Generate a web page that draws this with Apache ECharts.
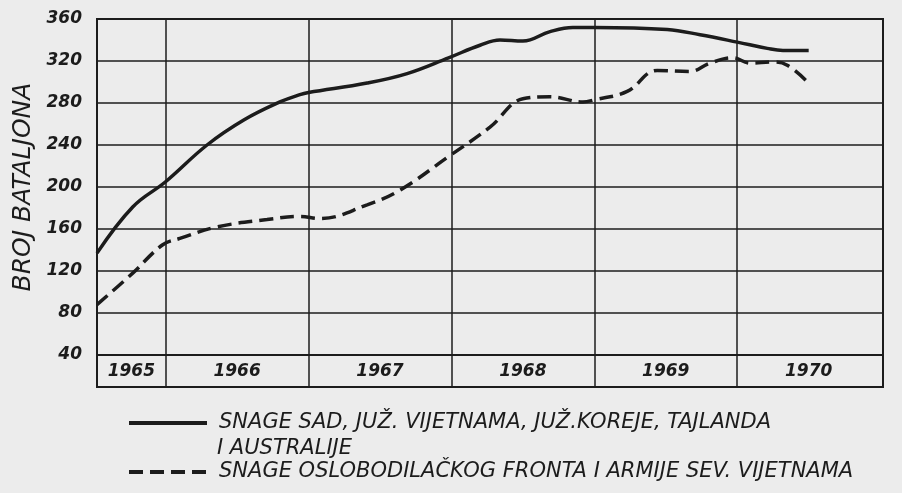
<!DOCTYPE html>
<html>
<head>
<meta charset="utf-8">
<script src="https://cdn.jsdelivr.net/npm/echarts@6/dist/echarts.min.js"></script>
<style>
  html, body { margin: 0; padding: 0; background: #ececec; }
  #chart { width: 902px; height: 493px; }
</style>
</head>
<body>
<div id="chart"></div>
<script>
// x values are fractional years, y values are battalions
const allied = [
  [1965.52, 137], [1965.77, 181], [1966.0, 205], [1966.29, 240], [1966.55, 264],
  [1966.8, 281], [1966.94, 288], [1967.0, 290], [1967.41, 299], [1967.69, 308],
  [1967.98, 323], [1968.2, 335], [1968.34, 340], [1968.5, 339], [1968.69, 348],
  [1968.85, 352], [1969.0, 352], [1969.51, 350], [1969.74, 345], [1970.0, 338],
  [1970.21, 332], [1970.32, 330], [1970.5, 330]
];
const enemy = [
  [1965.52, 88], [1965.77, 118], [1965.98, 145], [1966.1, 151], [1966.36, 162],
  [1966.71, 169], [1966.94, 172], [1967.08, 170], [1967.41, 183], [1967.64, 197],
  [1967.98, 229], [1968.27, 257], [1968.5, 284], [1968.69, 286], [1968.92, 281],
  [1969.0, 283], [1969.23, 291], [1969.44, 311], [1969.67, 310], [1969.81, 318],
  [1969.97, 323], [1970.09, 318], [1970.25, 319], [1970.35, 316], [1970.5, 299]
];
const yearBounds = [1966, 1967, 1968, 1969, 1970];
const yearLabelPos = [1965.76, 1966.5, 1967.5, 1968.5, 1969.5, 1970.5];
const seriesNames = [
  'SNAGE SAD, JUŽ. VIJETNAMA, JUŽ.KOREJE, TAJLANDA',
  'SNAGE OSLOBODILAČKOG FRONTA I ARMIJE SEV. VIJETNAMA'
];
const legendExtra = 'I AUSTRALIJE';
const yTitle = 'BROJ BATALJONA';

const ink = '#1c1c1c';
const font = 'DejaVu Sans';
const xMin = 1965.52, xMax = 1971.02;

const chart = echarts.init(document.getElementById('chart'));

chart.setOption({
  backgroundColor: '#ececec',
  animation: false,
  textStyle: { fontFamily: font, color: ink },
  grid: [
    { left: 97, right: 19, top: 19, bottom: 138, show: true, borderColor: ink, borderWidth: 2, backgroundColor: 'transparent' },
    { left: 97, right: 19, top: 355, bottom: 106, show: true, borderColor: ink, borderWidth: 2, backgroundColor: 'transparent' }
  ],
  xAxis: [
    {
      type: 'value', gridIndex: 0, min: xMin, max: xMax,
      axisLine: { show: false },
      axisTick: { show: false, customValues: yearBounds },
      splitLine: { show: true, lineStyle: { color: ink, width: 1.5 } },
      axisLabel: {
        customValues: yearLabelPos, margin: 8,
        fontFamily: font, fontStyle: 'italic', fontWeight: 'bold', fontSize: 17, color: ink,
        formatter: v => String(Math.floor(v))
      }
    },
    {
      type: 'value', gridIndex: 1, min: xMin, max: xMax,
      axisLine: { show: false },
      axisTick: { show: false, customValues: yearBounds },
      axisLabel: { show: false },
      splitLine: { show: true, lineStyle: { color: ink, width: 1.5 } }
    }
  ],
  yAxis: [
    {
      type: 'value', gridIndex: 0, min: 40, max: 360, interval: 40,
      axisLine: { show: false }, axisTick: { show: false },
      splitLine: { show: true, lineStyle: { color: ink, width: 1.5 } },
      axisLabel: {
        margin: 15, fontFamily: font, fontStyle: 'italic', fontWeight: 'bold', fontSize: 17, color: ink
      },
      name: yTitle, nameLocation: 'middle', nameRotate: 90, nameGap: 60,
      nameTextStyle: { fontFamily: font, fontStyle: 'italic', fontSize: 25, color: ink }
    },
    {
      type: 'value', gridIndex: 1, min: 0, max: 1,
      axisLine: { show: false }, axisTick: { show: false },
      axisLabel: { show: false }, splitLine: { show: false }
    }
  ],
  legend: {
    orient: 'vertical', left: 127, top: 411, padding: 0,
    itemWidth: 78, itemHeight: 14, itemGap: 25,
    itemStyle: { opacity: 0 },
    lineStyle: { width: 4 },
    textStyle: { fontFamily: font, fontStyle: 'italic', fontSize: 21, color: ink, lineHeight: 24, padding: [0, 0, 0, 7] },
    data: seriesNames
  },
  graphic: [
    {
      type: 'text', left: 217, top: 438,
      style: { text: legendExtra, font: 'italic 21px "DejaVu Sans"', fill: ink }
    }
  ],
  series: [
    {
      name: seriesNames[0], type: 'line', smooth: 0.4, symbol: 'none',
      lineStyle: { color: ink, width: 3.5 }, itemStyle: { color: ink },
      data: allied
    },
    {
      name: seriesNames[1], type: 'line', smooth: 0.4, symbol: 'none',
      lineStyle: { color: ink, width: 3.5, type: [14, 7] }, itemStyle: { color: ink },
      data: enemy
    }
  ]
});
</script>
</body>
</html>
